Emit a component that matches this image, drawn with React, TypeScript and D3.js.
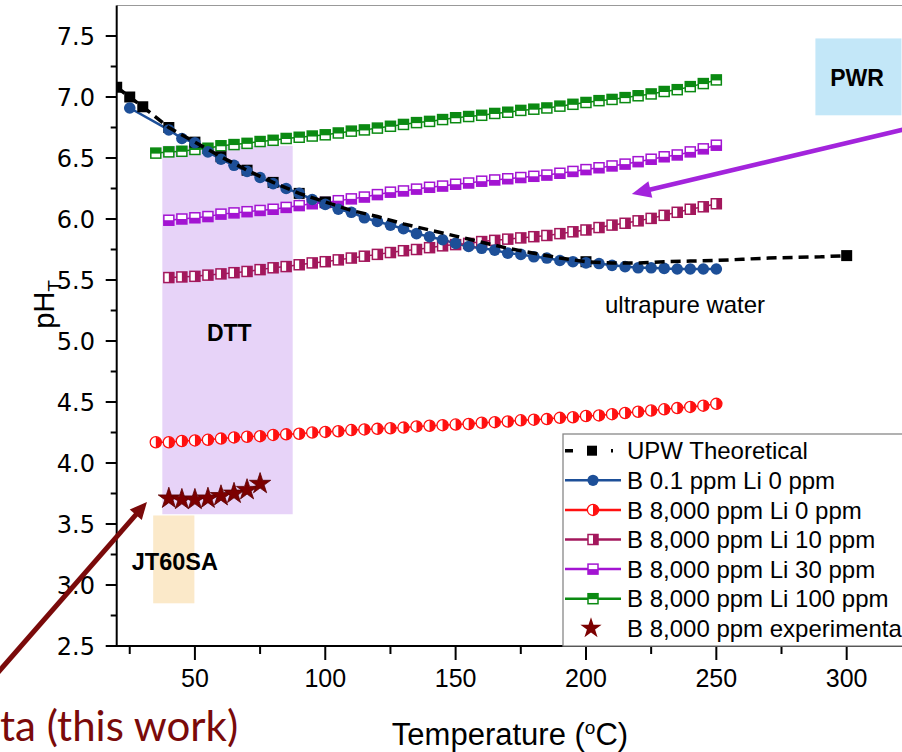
import React from "react";
import * as d3 from "d3";

// temperatures (°C)
const tempsFrom35 = [35, 40, 45, 50, 55, 60, 65, 70, 75, 80, 85, 90, 95, 100, 105, 110, 115, 120, 125, 130, 135, 140, 145, 150, 155, 160, 165, 170, 175, 180, 185, 190, 195, 200, 205, 210, 215, 220, 225, 230, 235, 240, 245, 250];
const tempsFrom40 = [40, 45, 50, 55, 60, 65, 70, 75, 80, 85, 90, 95, 100, 105, 110, 115, 120, 125, 130, 135, 140, 145, 150, 155, 160, 165, 170, 175, 180, 185, 190, 195, 200, 205, 210, 215, 220, 225, 230, 235, 240, 245, 250];
const blueTemps = [25, 40, 45, 50, 55, 60, 65, 70, 75, 80, 85, 90, 95, 100, 105, 110, 115, 120, 125, 130, 135, 140, 145, 150, 155, 160, 165, 170, 175, 180, 185, 190, 195, 200, 205, 210, 215, 220, 225, 230, 235, 240, 245, 250];

// UPW theoretical curve, markers only at some points
const upwTemps = [20, 25, 30, 40, 50, 60, 70, 80, 90, 100, 110, 120, 130, 140, 150, 160, 170, 180, 190, 200, 210, 220, 230, 240, 250, 260, 270, 280, 290, 300];
const upwPH = [7.08, 7.0, 6.92, 6.75, 6.63, 6.51, 6.4, 6.3, 6.21, 6.14, 6.07, 6.02, 5.96, 5.91, 5.86, 5.81, 5.76, 5.72, 5.68, 5.65, 5.64, 5.64, 5.65, 5.655, 5.66, 5.67, 5.68, 5.685, 5.69, 5.7];
const upwMarkerTemps = [20, 25, 30, 40, 50, 60, 70, 80, 90, 100, 200, 300];

const bLi0PH = [6.91, 6.73, 6.66, 6.625, 6.55, 6.49, 6.44, 6.39, 6.34, 6.29, 6.25, 6.21, 6.16, 6.12, 6.08, 6.055, 6.01, 5.98, 5.95, 5.92, 5.88, 5.855, 5.83, 5.8, 5.775, 5.76, 5.745, 5.72, 5.71, 5.69, 5.68, 5.66, 5.65, 5.64, 5.635, 5.62, 5.61, 5.6, 5.6, 5.595, 5.59, 5.59, 5.59, 5.59];
const b8000Li0PH = [4.17, 4.17, 4.18, 4.185, 4.19, 4.2, 4.21, 4.215, 4.22, 4.23, 4.235, 4.24, 4.25, 4.255, 4.26, 4.27, 4.275, 4.28, 4.285, 4.29, 4.3, 4.305, 4.31, 4.315, 4.32, 4.33, 4.335, 4.34, 4.35, 4.355, 4.36, 4.37, 4.375, 4.385, 4.39, 4.4, 4.41, 4.42, 4.43, 4.44, 4.45, 4.46, 4.47, 4.485];
const b8000Li10PH = [5.52, 5.525, 5.53, 5.54, 5.55, 5.56, 5.57, 5.585, 5.6, 5.61, 5.625, 5.64, 5.65, 5.665, 5.68, 5.695, 5.71, 5.725, 5.74, 5.75, 5.765, 5.78, 5.79, 5.8, 5.815, 5.825, 5.835, 5.845, 5.855, 5.865, 5.88, 5.895, 5.91, 5.93, 5.95, 5.965, 5.985, 6.005, 6.03, 6.055, 6.08, 6.1, 6.125];
const b8000Li30PH = [5.99, 6.0, 6.01, 6.02, 6.04, 6.05, 6.06, 6.07, 6.08, 6.095, 6.11, 6.125, 6.135, 6.15, 6.165, 6.18, 6.2, 6.22, 6.23, 6.245, 6.26, 6.27, 6.285, 6.295, 6.31, 6.32, 6.33, 6.34, 6.35, 6.36, 6.375, 6.39, 6.405, 6.42, 6.435, 6.45, 6.47, 6.49, 6.51, 6.525, 6.55, 6.575, 6.605];
const b8000Li100PH = [6.54, 6.55, 6.555, 6.57, 6.58, 6.6, 6.61, 6.62, 6.635, 6.645, 6.66, 6.67, 6.68, 6.69, 6.705, 6.72, 6.73, 6.745, 6.76, 6.775, 6.79, 6.8, 6.815, 6.83, 6.84, 6.85, 6.865, 6.875, 6.89, 6.9, 6.91, 6.925, 6.94, 6.955, 6.97, 6.98, 6.995, 7.01, 7.025, 7.045, 7.06, 7.085, 7.11, 7.14];

const expTemps = [40, 45, 50, 55, 60, 65, 70, 75];
const expPH = [3.71, 3.7, 3.7, 3.71, 3.73, 3.75, 3.78, 3.83];

const xMajor = [50, 100, 150, 200, 250, 300];
const xMinor = [25, 75, 125, 175, 225, 275, 325];
const yMajor = [2.5, 3.0, 3.5, 4.0, 4.5, 5.0, 5.5, 6.0, 6.5, 7.0, 7.5];
const yMinor = [2.75, 3.25, 3.75, 4.25, 4.75, 5.25, 5.75, 6.25, 6.75, 7.25];

const legendLabels = [
  "UPW Theoretical",
  "B 0.1 ppm Li 0 ppm",
  "B 8,000 ppm Li 0 ppm",
  "B 8,000 ppm Li 10 ppm",
  "B 8,000 ppm Li 30 ppm",
  "B 8,000 ppm Li 100 ppm",
  "B 8,000 ppm experimenta",
];

const C = {
  blue: "#1d4f98",
  red: "#ff1010",
  li10: "#a3175c",
  li30: "#a314d2",
  li100: "#0b8a12",
  star: "#7c0000",
  arrowRed: "#7a0a0a",
  arrowPurple: "#a324dc",
};

const W = 902;
const H = 752;
const x = d3.scaleLinear().domain([20, 330]).range([116.7, 924.9]);
const y = d3.scaleLinear().domain([2.5, 7.5]).range([646, 36]);
const plotTop = y(7.75);
const font = "'Liberation Sans', Arial, sans-serif";

function HalfSquare({ cx, cy, color, half }: { cx: number; cy: number; color: string; half: string }) {
  const s = 10;
  let fill = null;
  if (half === "right") fill = <rect x={cx} y={cy - s / 2} width={s / 2} height={s} fill={color} />;
  if (half === "bottom") fill = <rect x={cx - s / 2} y={cy} width={s} height={s / 2} fill={color} />;
  if (half === "top") fill = <rect x={cx - s / 2} y={cy - s / 2} width={s} height={s / 2 + 0.5} fill={color} />;
  return (
    <g>
      <rect x={cx - s / 2} y={cy - s / 2} width={s} height={s} fill="#fff" stroke={color} strokeWidth={1.5} />
      {fill}
    </g>
  );
}

function HalfCircle({ cx, cy, color }: { cx: number; cy: number; color: string }) {
  const r = 5.6;
  return (
    <g>
      <circle cx={cx} cy={cy} r={r} fill="#fff" stroke={color} strokeWidth={1.3} />
      <path d={`M${cx},${cy - r}A${r},${r} 0 0 1 ${cx},${cy + r}Z`} fill={color} />
    </g>
  );
}

const starPath = d3.symbol(d3.symbolStar, 140)() as string;

function Arrow({ x1, y1, x2, y2, color, width, head, headW }: any) {
  const ang = Math.atan2(y2 - y1, x2 - x1);
  const bx = x2 - head * Math.cos(ang);
  const by = y2 - head * Math.sin(ang);
  const px = -Math.sin(ang) * headW / 2;
  const py = Math.cos(ang) * headW / 2;
  return (
    <g>
      <line x1={x1} y1={y1} x2={bx + Math.cos(ang) * 2} y2={by + Math.sin(ang) * 2} stroke={color} strokeWidth={width} />
      <path d={`M${x2},${y2}L${bx + px},${by + py}L${bx - px},${by - py}Z`} fill={color} />
    </g>
  );
}

export default function App() {
  const line = d3.line<[number, number]>().x((d) => x(d[0])).y((d) => y(d[1]));
  const zip = (t: number[], v: number[]) => t.map((d, i) => [d, v[i]] as [number, number]);
  const upwPts = zip(upwTemps, upwPH);
  const upwMarks = upwMarkerTemps.map((t) => [t, upwPH[upwTemps.indexOf(t)]] as [number, number]);

  const legX = 563;
  const legTop = 434;
  const rowY = (i: number) => 450.7 + i * 29.6;

  return (
    <svg width={W} height={H} style={{ position: "fixed", left: 0, top: 0, background: "#fff" }} fontFamily={font}>
      <defs>
        <clipPath id="plot">
          <rect x={x(20)} y={plotTop} width={W - x(20)} height={y(2.5) - plotTop} />
        </clipPath>
      </defs>
      <rect width={W} height={H} fill="#fff" />

      {/* shaded regions */}
      <rect x={x(37.5)} y={y(6.6)} width={x(87.5) - x(37.5)} height={y(3.58) - y(6.6)} fill="#e7d3f8" />
      <rect x={x(34)} y={y(3.57)} width={x(49.8) - x(34)} height={y(2.85) - y(3.57)} fill="#fbe9c9" />
      <rect x={x(288)} y={y(7.48)} width={x(321) - x(288)} height={y(6.85) - y(7.48)} fill="#c3e7f8" />

      {/* frame */}
      <line x1={x(20)} x2={W} y1={plotTop} y2={plotTop} stroke="#999" strokeWidth={1.2} />

      <g clipPath="url(#plot)">
        {/* series lines */}
        <path d={line(zip(blueTemps, bLi0PH)) as string} fill="none" stroke={C.blue} strokeWidth={2.5} />
        <path d={line(zip(tempsFrom35, b8000Li0PH)) as string} fill="none" stroke={C.red} strokeWidth={1.5} />
        <path d={line(zip(tempsFrom40, b8000Li10PH)) as string} fill="none" stroke={C.li10} strokeWidth={1.5} />
        <path d={line(zip(tempsFrom40, b8000Li30PH)) as string} fill="none" stroke={C.li30} strokeWidth={1.5} />
        <path d={line(zip(tempsFrom35, b8000Li100PH)) as string} fill="none" stroke={C.li100} strokeWidth={1.5} />

        {zip(tempsFrom35, b8000Li100PH).map((d, i) => (
          <HalfSquare key={"g" + i} cx={x(d[0])} cy={y(d[1])} color={C.li100} half="top" />
        ))}
        {zip(tempsFrom40, b8000Li30PH).map((d, i) => (
          <HalfSquare key={"p" + i} cx={x(d[0])} cy={y(d[1])} color={C.li30} half="bottom" />
        ))}
        {zip(tempsFrom40, b8000Li10PH).map((d, i) => (
          <HalfSquare key={"m" + i} cx={x(d[0])} cy={y(d[1])} color={C.li10} half="right" />
        ))}
        {zip(tempsFrom35, b8000Li0PH).map((d, i) => (
          <HalfCircle key={"r" + i} cx={x(d[0])} cy={y(d[1])} color={C.red} />
        ))}

        {/* UPW theoretical */}
        {upwMarks.map((d, i) => (
          <rect key={"u" + i} x={x(d[0]) - 5.5} y={y(d[1]) - 5.5} width={11} height={11} fill="#000" />
        ))}
        {zip(blueTemps, bLi0PH).map((d, i) => (
          <circle key={"b" + i} cx={x(d[0])} cy={y(d[1])} r={5.8} fill={C.blue} />
        ))}
        <path d={line(upwPts) as string} fill="none" stroke="#000" strokeWidth={3.5} strokeDasharray="10 6" />

        {/* experimental */}
        <path d={line(zip(expTemps, expPH)) as string} fill="none" stroke={C.star} strokeWidth={1} strokeDasharray="3 2" />
        {zip(expTemps, expPH).map((d, i) => (
          <path key={"s" + i} d={starPath} transform={`translate(${x(d[0])},${y(d[1])})`} fill={C.star} stroke="#5c0000" strokeWidth={0.8} />
        ))}
      </g>

      {/* axes */}
      <line x1={x(20)} x2={x(20)} y1={plotTop} y2={y(2.5)} stroke="#000" strokeWidth={2} />
      <line x1={x(20) - 1} x2={W} y1={y(2.5)} y2={y(2.5)} stroke="#000" strokeWidth={2} />
      {yMajor.map((v) => (
        <g key={"ym" + v}>
          <line x1={x(20) - 11} x2={x(20)} y1={y(v)} y2={y(v)} stroke="#000" strokeWidth={2} />
          <text x={95} y={y(v)} dy="0.36em" textAnchor="end" fontFamily="'DejaVu Sans', sans-serif" fontSize={24}>
            {v.toFixed(1)}
          </text>
        </g>
      ))}
      {yMinor.map((v) => (
        <line key={"yn" + v} x1={x(20) - 6} x2={x(20)} y1={y(v)} y2={y(v)} stroke="#000" strokeWidth={2} />
      ))}
      {xMajor.map((v) => (
        <g key={"xm" + v}>
          <line x1={x(v)} x2={x(v)} y1={y(2.5)} y2={y(2.5) + 14} stroke="#000" strokeWidth={2} />
          <text x={x(v)} y={y(2.5) + 41} textAnchor="middle" fontSize={25}>
            {v}
          </text>
        </g>
      ))}
      {xMinor.map((v) => (
        <line key={"xn" + v} x1={x(v)} x2={x(v)} y1={y(2.5)} y2={y(2.5) + 8} stroke="#000" strokeWidth={2} />
      ))}

      {/* axis titles */}
      <text x={510} y={745} textAnchor="middle" fontSize={31}>
        Temperature (<tspan dy={-11} fontSize={19}>o</tspan>
        <tspan dy={11}>C)</tspan>
      </text>
      <text transform={`translate(54,${y(5.3)}) rotate(-90)`} textAnchor="middle" fontSize={29}>
        pH<tspan dy={7} fontSize={19}>T</tspan>
      </text>

      {/* region labels */}
      <text x={x(63.2)} y={y(5.07)} dy="0.36em" textAnchor="middle" fontSize={23} fontWeight="bold">DTT</text>
      <text x={x(42.3)} y={y(3.19)} dy="0.36em" textAnchor="middle" fontSize={23.5} fontWeight="bold">JT60SA</text>
      <text x={x(304)} y={y(7.16)} dy="0.36em" textAnchor="middle" fontSize={23} fontWeight="bold">PWR</text>
      <text x={x(207.3)} y={y(5.23)} fontSize={24}>ultrapure water</text>

      {/* annotation arrows */}
      <Arrow x1={x(323)} y1={y(6.74)} x2={x(217.6)} y2={y(6.205)} color={C.arrowPurple} width={4.5} head={19} headW={17} />
      <Arrow x1={-20} y1={693} x2={x(31.6)} y2={y(3.68)} color={C.arrowRed} width={5} head={17} headW={16} />
      <text x={0} y={741} fontFamily="Lato, 'Open Sans', sans-serif" fontSize={42} fill={C.arrowRed}>
        ta (this work)
      </text>

      {/* legend */}
      <rect x={legX} y={legTop} width={W - legX + 10} height={y(2.5) - legTop} fill="#fff" stroke="#888" strokeWidth={1.3} />
      <g>
        <line x1={565} x2={613} y1={rowY(0)} y2={rowY(0)} stroke="#000" strokeWidth={3.5} strokeDasharray="8 15" />
        <rect x={587} y={rowY(0) - 5} width={10} height={10} fill="#000" />
        <line x1={565} x2={621} y1={rowY(1)} y2={rowY(1)} stroke={C.blue} strokeWidth={2.5} />
        <circle cx={593} cy={rowY(1)} r={5.6} fill={C.blue} />
        <line x1={565} x2={621} y1={rowY(2)} y2={rowY(2)} stroke={C.red} strokeWidth={2.5} />
        <HalfCircle cx={593} cy={rowY(2)} color={C.red} />
        <line x1={565} x2={621} y1={rowY(3)} y2={rowY(3)} stroke={C.li10} strokeWidth={2.5} />
        <HalfSquare cx={593} cy={rowY(3)} color={C.li10} half="right" />
        <line x1={565} x2={621} y1={rowY(4)} y2={rowY(4)} stroke={C.li30} strokeWidth={2.5} />
        <HalfSquare cx={593} cy={rowY(4)} color={C.li30} half="bottom" />
        <line x1={565} x2={621} y1={rowY(5)} y2={rowY(5)} stroke={C.li100} strokeWidth={2.5} />
        <HalfSquare cx={593} cy={rowY(5)} color={C.li100} half="top" />
        <path d={starPath} transform={`translate(591,${rowY(6)})`} fill={C.star} />
        {legendLabels.map((l, i) => (
          <text key={l} x={627} y={rowY(i)} dy="0.36em" fontSize={24}>
            {l}
          </text>
        ))}
      </g>
    </svg>
  );
}
